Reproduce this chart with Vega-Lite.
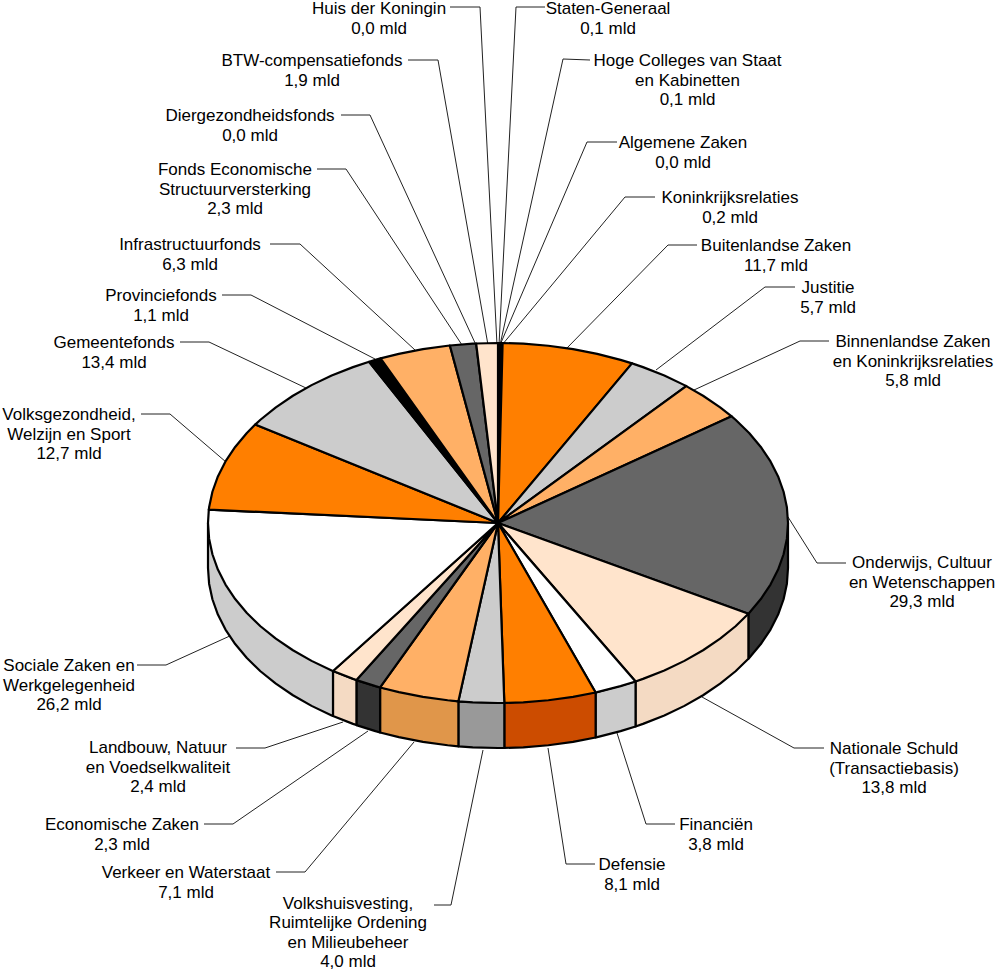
{
"$schema":"https://vega.github.io/schema/vega-lite/v6.json",
"width":996,"height":971,"padding":0,"autosize":"none",
"background":"white","config":{"view":{"stroke":null}},
"datasets":{
"faces":[
{"slice":"Staten-Generaal","value":0.1,"faceX":[0,0,0.004],"faceY":[0,1,1]},
{"slice":"Hoge Colleges","value":0.1,"faceX":[0,0.004,0.008],"faceY":[0,1,1]},
{"slice":"Koninkrijksrelaties","value":0.2,"faceX":[0,0.008,0.0159],"faceY":[0,1,0.9999]},
{"slice":"Buitenlandse Zaken","value":11.7,"faceX":[0,0.0159,0.0872,0.1736,0.2588,0.342,0.4226,0.4621],"faceY":[0,0.9999,0.9962,0.9848,0.9659,0.9397,0.9063,0.8868]},
{"slice":"Justitie","value":5.7,"faceX":[0,0.4621,0.5,0.5736,0.6428,0.6492],"faceY":[0,0.8868,0.866,0.8192,0.766,0.7606]},
{"slice":"Binnenlandse Zaken","value":5.8,"faceX":[0,0.6492,0.7071,0.766,0.8056],"faceY":[0,0.7606,0.7071,0.6428,0.5925]},
{"slice":"Onderwijs","value":29.3,"faceX":[0,0.8056,0.8192,0.866,0.9063,0.9397,0.9659,0.9848,0.9962,1,0.9962,0.9848,0.9659,0.9397,0.9063,0.866,0.8634],"faceY":[0,0.5925,0.5736,0.5,0.4226,0.342,0.2588,0.1736,0.0872,0,-0.0872,-0.1736,-0.2588,-0.342,-0.4226,-0.5,-0.5045]},
{"slice":"Nationale Schuld","value":13.8,"faceX":[0,0.8634,0.8192,0.766,0.7071,0.6428,0.5736,0.5,0.4743],"faceY":[0,-0.5045,-0.5736,-0.6428,-0.7071,-0.766,-0.8192,-0.866,-0.8804]},
{"slice":"Financiën","value":3.8,"faceX":[0,0.4743,0.4226,0.342,0.3366],"faceY":[0,-0.8804,-0.9063,-0.9397,-0.9416]},
{"slice":"Defensie","value":8.1,"faceX":[0,0.3366,0.2588,0.1736,0.0872,0.0218],"faceY":[0,-0.9416,-0.9659,-0.9848,-0.9962,-0.9998]},
{"slice":"Volkshuisvesting","value":4.0,"faceX":[0,0.0218,0,-0.0872,-0.1366],"faceY":[0,-0.9998,-1,-0.9962,-0.9906]},
{"slice":"Verkeer en Waterstaat","value":7.1,"faceX":[0,-0.1366,-0.1736,-0.2588,-0.342,-0.4066],"faceY":[0,-0.9906,-0.9848,-0.9659,-0.9397,-0.9136]},
{"slice":"Economische Zaken","value":2.3,"faceX":[0,-0.4066,-0.4226,-0.4882],"faceY":[0,-0.9136,-0.9063,-0.8727]},
{"slice":"Landbouw","value":2.4,"faceX":[0,-0.4882,-0.5,-0.569],"faceY":[0,-0.8727,-0.866,-0.8223]},
{"slice":"Sociale Zaken","value":26.2,"faceX":[0,-0.569,-0.5736,-0.6428,-0.7071,-0.766,-0.8192,-0.866,-0.9063,-0.9397,-0.9659,-0.9848,-0.9962,-1,-0.9972],"faceY":[0,-0.8223,-0.8192,-0.766,-0.7071,-0.6428,-0.5736,-0.5,-0.4226,-0.342,-0.2588,-0.1736,-0.0872,0,0.0745]},
{"slice":"Volksgezondheid","value":12.7,"faceX":[0,-0.9972,-0.9962,-0.9848,-0.9659,-0.9397,-0.9063,-0.866,-0.8373],"faceY":[0,0.0745,0.0872,0.1736,0.2588,0.342,0.4226,0.5,0.5467]},
{"slice":"Gemeentefonds","value":13.4,"faceX":[0,-0.8373,-0.8192,-0.766,-0.7071,-0.6428,-0.5736,-0.5,-0.4444],"faceY":[0,0.5467,0.5736,0.6428,0.7071,0.766,0.8192,0.866,0.8958]},
{"slice":"Provinciefonds","value":1.1,"faceX":[0,-0.4444,-0.4226,-0.4049],"faceY":[0,0.8958,0.9063,0.9144]},
{"slice":"Infrastructuurfonds","value":6.3,"faceX":[0,-0.4049,-0.342,-0.2588,-0.1736,-0.1659],"faceY":[0,0.9144,0.9397,0.9659,0.9848,0.9861]},
{"slice":"Fonds Economische Structuurversterking","value":2.3,"faceX":[0,-0.1659,-0.0872,-0.0753],"faceY":[0,0.9861,0.9962,0.9972]},
{"slice":"BTW-compensatiefonds","value":1.9,"faceX":[0,-0.0753,0],"faceY":[0,0.9972,1]}
],
"walls":[
{"slice":"Onderwijs","wallX":[1,1,0.9962,0.9848,0.9659,0.9397,0.9063,0.866,0.8634,0.8634],"wallY":[0,-0.25,-0.3372,-0.4236,-0.5088,-0.592,-0.6726,-0.75,-0.7545,-0.5045]},
{"slice":"Nationale Schuld","wallX":[0.8634,0.8634,0.8192,0.766,0.7071,0.6428,0.5736,0.5,0.4743,0.4743],"wallY":[-0.5045,-0.7545,-0.8236,-0.8928,-0.9571,-1.016,-1.0692,-1.116,-1.1304,-0.8804]},
{"slice":"Financiën","wallX":[0.4743,0.4743,0.4226,0.342,0.3366,0.3366],"wallY":[-0.8804,-1.1304,-1.1563,-1.1897,-1.1916,-0.9416]},
{"slice":"Defensie","wallX":[0.3366,0.3366,0.2588,0.1736,0.0872,0.0218,0.0218],"wallY":[-0.9416,-1.1916,-1.2159,-1.2348,-1.2462,-1.2498,-0.9998]},
{"slice":"Volkshuisvesting","wallX":[0.0218,0.0218,0,-0.0872,-0.1366,-0.1366],"wallY":[-0.9998,-1.2498,-1.25,-1.2462,-1.2406,-0.9906]},
{"slice":"Verkeer en Waterstaat","wallX":[-0.1366,-0.1366,-0.1736,-0.2588,-0.342,-0.4066,-0.4066],"wallY":[-0.9906,-1.2406,-1.2348,-1.2159,-1.1897,-1.1636,-0.9136]},
{"slice":"Economische Zaken","wallX":[-0.4066,-0.4066,-0.4226,-0.4882,-0.4882],"wallY":[-0.9136,-1.1636,-1.1563,-1.1227,-0.8727]},
{"slice":"Landbouw","wallX":[-0.4882,-0.4882,-0.5,-0.569,-0.569],"wallY":[-0.8727,-1.1227,-1.116,-1.0723,-0.8223]},
{"slice":"Sociale Zaken","wallX":[-0.569,-0.569,-0.5736,-0.6428,-0.7071,-0.766,-0.8192,-0.866,-0.9063,-0.9397,-0.9659,-0.9848,-0.9962,-1,-1],"wallY":[-0.8223,-1.0723,-1.0692,-1.016,-0.9571,-0.8928,-0.8236,-0.75,-0.6726,-0.592,-0.5088,-0.4236,-0.3372,-0.25,0]}
],
"labels":[
{"slice":"Huis der Koningin","value":0.0,"label":"Huis der Koningin\n0,0 mld","x":379,"y":14,"lineX":[450,480,497],"lineY":[7,7,345]},
{"slice":"Staten-Generaal","value":0.1,"label":"Staten-Generaal\n0,1 mld","x":608,"y":14,"lineX":[545,516,499],"lineY":[7,7,345]},
{"slice":"BTW-compensatiefonds","value":1.9,"label":"BTW-compensatiefonds\n1,9 mld","x":312,"y":66,"lineX":[408,438,488],"lineY":[60,60,345]},
{"slice":"Hoge Colleges","value":0.1,"label":"Hoge Colleges van Staat\nen Kabinetten\n0,1 mld","x":687.5,"y":66,"lineX":[590,563,500],"lineY":[60,59,345]},
{"slice":"Diergezondheidsfonds","value":0.0,"label":"Diergezondheidsfonds\n0,0 mld","x":250,"y":121,"lineX":[341,370,476],"lineY":[115,115,345]},
{"slice":"Algemene Zaken","value":0.0,"label":"Algemene Zaken\n0,0 mld","x":683,"y":148,"lineX":[617,587,500],"lineY":[142,142,345]},
{"slice":"Fonds Economische Structuurversterking","value":2.3,"label":"Fonds Economische\nStructuurversterking\n2,3 mld","x":235,"y":175,"lineX":[317,346,462],"lineY":[169,169,345]},
{"slice":"Koninkrijksrelaties","value":0.2,"label":"Koninkrijksrelaties\n0,2 mld","x":730,"y":203,"lineX":[655,625,502],"lineY":[197,197,345]},
{"slice":"Infrastructuurfonds","value":6.3,"label":"Infrastructuurfonds\n6,3 mld","x":190,"y":250,"lineX":[270,300,415],"lineY":[244,244,350]},
{"slice":"Buitenlandse Zaken","value":11.7,"label":"Buitenlandse Zaken\n11,7 mld","x":776,"y":251,"lineX":[697,668,566],"lineY":[245,245,349]},
{"slice":"Justitie","value":5.7,"label":"Justitie\n5,7 mld","x":828,"y":293,"lineX":[795,765,656],"lineY":[287,287,370]},
{"slice":"Binnenlandse Zaken","value":5.8,"label":"Binnenlandse Zaken\nen Koninkrijksrelaties\n5,8 mld","x":913,"y":347,"lineX":[829,800,694],"lineY":[341,341,390]},
{"slice":"Provinciefonds","value":1.1,"label":"Provinciefonds\n1,1 mld","x":161,"y":301,"lineX":[222,251,375],"lineY":[295,295,359]},
{"slice":"Gemeentefonds","value":13.4,"label":"Gemeentefonds\n13,4 mld","x":114,"y":348,"lineX":[180,209,306],"lineY":[342,342,388]},
{"slice":"Volksgezondheid","value":12.7,"label":"Volksgezondheid,\nWelzijn en Sport\n12,7 mld","x":69,"y":420,"lineX":[141,170,226],"lineY":[414,414,462]},
{"slice":"Onderwijs","value":29.3,"label":"Onderwijs, Cultuur\nen Wetenschappen\n29,3 mld","x":922,"y":568,"lineX":[846,817,788],"lineY":[563,563,517]},
{"slice":"Nationale Schuld","value":13.8,"label":"Nationale Schuld\n(Transactiebasis)\n13,8 mld","x":894,"y":754,"lineX":[824,794,702],"lineY":[748,748,697]},
{"slice":"Financiën","value":3.8,"label":"Financiën\n3,8 mld","x":716,"y":830,"lineX":[675,646,617],"lineY":[824,824,733]},
{"slice":"Defensie","value":8.1,"label":"Defensie\n8,1 mld","x":632,"y":870,"lineX":[595,566,548],"lineY":[864,864,748]},
{"slice":"Volkshuisvesting","value":4.0,"label":"Volkshuisvesting,\nRuimtelijke Ordening\nen Milieubeheer\n4,0 mld","x":348,"y":908.5,"lineX":[434,451,483],"lineY":[905,905,750]},
{"slice":"Verkeer en Waterstaat","value":7.1,"label":"Verkeer en Waterstaat\n7,1 mld","x":186,"y":878,"lineX":[276,305,414],"lineY":[872,872,742]},
{"slice":"Economische Zaken","value":2.3,"label":"Economische Zaken\n2,3 mld","x":122,"y":830,"lineX":[204,233,368],"lineY":[824,824,731]},
{"slice":"Landbouw","value":2.4,"label":"Landbouw, Natuur\nen Voedselkwaliteit\n2,4 mld","x":158,"y":753,"lineX":[236,265,343],"lineY":[748,748,722]},
{"slice":"Sociale Zaken","value":26.2,"label":"Sociale Zaken en\nWerkgelegenheid\n26,2 mld","x":69,"y":671,"lineX":[137,166,232],"lineY":[665,665,635]}
]
},
"resolve":{"scale":{"x":"independent","y":"independent","color":"independent"}},
"layer":[
{"data":{"name":"labels"},"transform":[{"flatten":["lineX","lineY"]}],
 "mark":{"type":"line","stroke":"#222","strokeWidth":1,"clip":false},
 "encoding":{
  "x":{"field":"lineX","type":"quantitative","axis":null,"scale":{"domain":[0,996],"nice":false,"zero":false}},
  "y":{"field":"lineY","type":"quantitative","axis":null,"scale":{"domain":[971,0],"nice":false,"zero":false}},
  "detail":{"field":"slice"},
  "order":{"value":null}}},
{"data":{"name":"walls"},"transform":[{"flatten":["wallX","wallY"]}],
 "mark":{"type":"line","interpolate":"linear-closed","filled":true,"stroke":"black","strokeWidth":2.2,"strokeJoin":"round"},
 "encoding":{
  "x":{"field":"wallX","type":"quantitative","axis":null,"scale":{"domain":[-1.71724,1.71724],"nice":false,"zero":false}},
  "y":{"field":"wallY","type":"quantitative","axis":null,"scale":{"domain":[-2.48889,2.90556],"nice":false,"zero":false}},
  "color":{"field":"slice","type":"nominal","legend":null,"scale":{
   "domain":["Onderwijs","Nationale Schuld","Financiën","Defensie","Volkshuisvesting","Verkeer en Waterstaat","Economische Zaken","Landbouw","Sociale Zaken"],
   "range":["#333333","#f4dac3","#cccccc","#cc4c00","#999999","#e0964a","#333333","#f4dac3","#cccccc"]}},
  "order":{"value":null}}},
{"data":{"name":"faces"},"transform":[{"flatten":["faceX","faceY"]}],
 "mark":{"type":"line","interpolate":"linear-closed","filled":true,"stroke":"black","strokeWidth":2.2,"strokeJoin":"round"},
 "encoding":{
  "x":{"field":"faceX","type":"quantitative","axis":null,"scale":{"domain":[-1.71724,1.71724],"nice":false,"zero":false}},
  "y":{"field":"faceY","type":"quantitative","axis":null,"scale":{"domain":[-2.48889,2.90556],"nice":false,"zero":false}},
  "color":{"field":"slice","type":"nominal","legend":null,"scale":{
   "domain":["Staten-Generaal","Hoge Colleges","Koninkrijksrelaties","Buitenlandse Zaken","Justitie","Binnenlandse Zaken","Onderwijs","Nationale Schuld","Financiën","Defensie","Volkshuisvesting","Verkeer en Waterstaat","Economische Zaken","Landbouw","Sociale Zaken","Volksgezondheid","Gemeentefonds","Provinciefonds","Infrastructuurfonds","Fonds Economische Structuurversterking","BTW-compensatiefonds"],
   "range":["#000000","#000000","#000000","#ff7f00","#cccccc","#ffb066","#666666","#ffe4cc","#ffffff","#ff7f00","#cccccc","#ffb066","#666666","#ffe4cc","#ffffff","#ff7f00","#cccccc","#000000","#ffb066","#666666","#ffe4cc"]}},
  "order":{"value":null}}},
{"data":{"name":"labels"},
 "mark":{"type":"text","font":"Liberation Sans","fontSize":17,"lineBreak":"\n","lineHeight":19.5,"align":"center","baseline":"alphabetic","fill":"#000"},
 "encoding":{
  "x":{"field":"x","type":"quantitative","axis":null,"scale":{"domain":[0,996],"nice":false,"zero":false}},
  "y":{"field":"y","type":"quantitative","axis":null,"scale":{"domain":[971,0],"nice":false,"zero":false}},
  "text":{"field":"label"}}}
]
}
